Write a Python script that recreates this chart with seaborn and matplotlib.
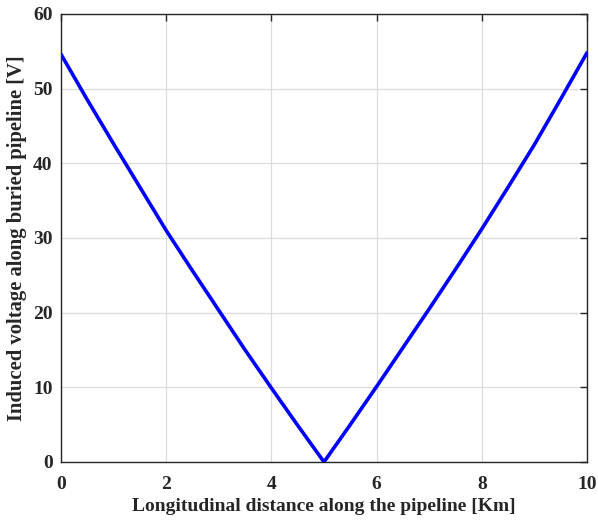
import matplotlib
matplotlib.use("Agg")
import matplotlib.pyplot as plt
import seaborn as sns
import pandas as pd

# Induced voltage profile along the buried pipeline
distance_km = [0.0, 0.5, 1.0, 1.5, 2.0, 2.5, 3.0, 3.5, 4.0, 4.5, 5.0,
               5.5, 6.0, 6.5, 7.0, 7.5, 8.0, 8.5, 9.0, 9.5, 10.0]
voltage_v = [54.6, 48.5, 42.6, 36.8, 31.0, 25.6, 20.3, 15.0, 9.9, 4.9, 0.0,
             5.0, 10.1, 15.3, 20.5, 25.8, 31.2, 36.8, 42.5, 48.6, 54.8]
x_ticks = [0, 2, 4, 6, 8, 10]
y_ticks = [0, 10, 20, 30, 40, 50, 60]

df = pd.DataFrame({"distance": distance_km, "voltage": voltage_v})

sns.set_style("whitegrid")
plt.rcParams["font.family"] = ["Liberation Serif", "DejaVu Serif"]
plt.rcParams["font.weight"] = "bold"

fig = plt.figure(figsize=(5.98, 5.22), dpi=100)
ax = fig.add_axes([0.102, 0.115, 0.8796, 0.8583])

sns.lineplot(data=df, x="distance", y="voltage", ax=ax, color="#0000ff",
             linewidth=2.6, sort=False, zorder=3)

ax.set_xlim(0, 10)
ax.set_ylim(0, 60)
ax.set_xticks(x_ticks)
ax.set_yticks(y_ticks)
ax.set_xticklabels([str(t) for t in x_ticks], fontsize=14, fontweight="bold", color="#262626")
ax.set_yticklabels([str(t) for t in y_ticks], fontsize=14, fontweight="bold", color="#262626")

ax.grid(True, color="#dcdcdc", linewidth=0.9)
ax.set_axisbelow(True)
for side in ["top", "bottom", "left", "right"]:
    ax.spines[side].set_visible(True)
    ax.spines[side].set_color("#262626")
    ax.spines[side].set_linewidth(1.0)

ax.tick_params(axis="x", direction="in", length=5, width=1.0, color="#262626",
               top=True, pad=10)
ax.tick_params(axis="y", direction="in", length=5, width=1.0, color="#262626",
               right=True, pad=6)

ax.set_xlabel("Longitudinal distance along the pipeline [Km]", fontsize=14,
              fontweight="bold", color="#262626", labelpad=4)
ax.set_ylabel("Induced voltage along buried pipeline [V]", fontsize=14.9,
              fontweight="bold", color="#262626")
ax.yaxis.set_label_coords(-0.064, 0.5)

fig.savefig("out.png", dpi=100, facecolor="white")
